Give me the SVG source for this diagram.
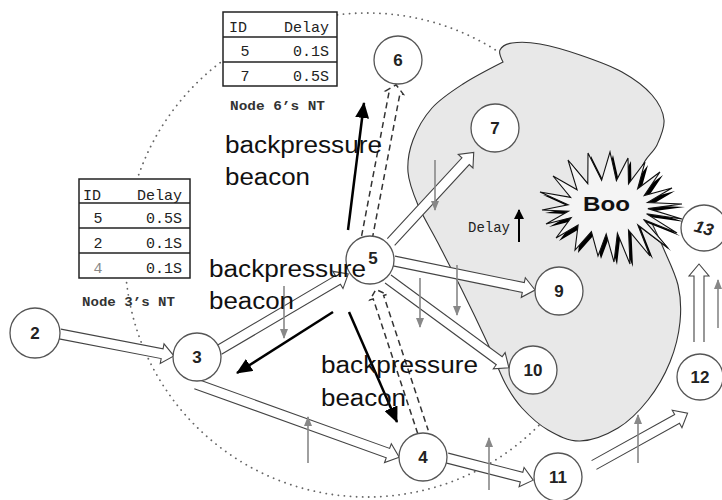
<svg xmlns="http://www.w3.org/2000/svg" width="722" height="500" viewBox="0 0 722 500">
  <style>
    .node circle { fill: #fff; stroke: #555; stroke-width: 1.3; }
    .node text { font-family: "Liberation Sans", Arial, sans-serif; font-weight: bold; font-size: 17px; fill: #222; text-anchor: middle; }
    .flow { fill: #fff; stroke: #444; stroke-width: 1.1; stroke-linejoin: miter; }
    .beacon { fill: none; stroke: #333; stroke-width: 1.5; stroke-dasharray: 6 4; }
    .gray { stroke: #888; stroke-width: 1.6; marker-end: url(#gh); }
    .blk { stroke: #000; stroke-width: 2.5; marker-end: url(#bh); }
    .lbl { font-family: "Liberation Sans", Arial, sans-serif; font-size: 23px; fill: #111; }
    .tbl rect { fill: #fff; stroke: #222; stroke-width: 1.5; }
    .tbl line { stroke: #222; stroke-width: 1.5; }
    .tbl text, .mono { font-family: "Liberation Mono", "DejaVu Sans Mono", monospace; font-size: 15px; fill: #222; }
    .cap { font-family: "Liberation Mono", "DejaVu Sans Mono", monospace; font-size: 12px; font-weight: bold; fill: #333; }
  </style>
  <defs>
    <marker id="bh" viewBox="0 0 16 14" refX="15" refY="7" markerWidth="16" markerHeight="14" markerUnits="userSpaceOnUse" orient="auto">
      <path d="M0,0 L16,7 L0,14 z" fill="#000"/>
    </marker>
    <marker id="bs" viewBox="0 0 10 10" refX="9" refY="5" markerWidth="10" markerHeight="10" markerUnits="userSpaceOnUse" orient="auto">
      <path d="M0,0 L10,5 L0,10 z" fill="#000"/>
    </marker>
    <marker id="gh" viewBox="0 0 10 8" refX="9" refY="4" markerWidth="10" markerHeight="8" markerUnits="userSpaceOnUse" orient="auto">
      <path d="M0,0 L10,4 L0,8 z" fill="#888"/>
    </marker>
  </defs>

  <rect width="722" height="500" fill="#fff"/>

  <!-- neighbourhood boundary -->
  <circle cx="367" cy="255" r="242" fill="none" stroke="#666" stroke-width="1.8" stroke-linecap="round" stroke-dasharray="0.1 6"/>

  <!-- congested region -->
  <path id="region" fill="#e8e8e8" stroke="#333" stroke-width="1.1"
    d="M503,62 C503,62 498.5,53.2 500,50 C501.5,46.8 505.3,44 512,43 C518.7,42 528.7,42 540,44 C551.3,46 566.3,50.3 580,55 C593.7,59.7 610,65.3 622,72 C634,78.7 645,87 652,95 C659,103 663.2,111.7 664,120 C664.8,128.3 660.7,137 657,145 C653.3,153 644,158 642,168 C640,178 641.7,192.2 645,205 C648.3,217.8 656.5,231.7 662,245 C667.5,258.3 675,272.2 678,285 C681,297.8 681.3,309.2 680,322 C678.7,334.8 675.3,349 670,362 C664.7,375 656.7,389 648,400 C639.3,411 629.3,421.2 618,428 C606.7,434.8 591.7,440.7 580,441 C568.3,441.3 557.7,435.5 548,430 C538.3,424.5 529.2,415.8 522,408 C514.8,400.2 510.8,394 505,383 C499.2,372 494.2,357.5 487,342 C479.8,326.5 470.2,306.5 462,290 C453.8,273.5 445.3,257.2 438,243 C430.7,228.8 423,216.8 418,205 C413,193.2 408.8,182.8 408,172 C407.2,161.2 409,150.7 413,140 C417,129.3 423.7,117.3 432,108 C440.3,98.7 451.2,91.7 463,84 C474.8,76.3 503,62 503,62 Z"/>

  <!-- neighbour tables -->
  <g id="table6" class="tbl">
    <rect x="223" y="12" width="114" height="74"/>
    <line x1="223" y1="37" x2="337" y2="37"/>
    <line x1="223" y1="62" x2="337" y2="62"/>
    <text x="229" y="32">ID</text>
    <text x="329" y="32" text-anchor="end">Delay</text>
    <text x="245" y="56" text-anchor="middle">5</text>
    <text x="329" y="56" text-anchor="end">0.1S</text>
    <text x="245" y="81" text-anchor="middle">7</text>
    <text x="329" y="81" text-anchor="end">0.5S</text>
  </g>
  <text class="cap" x="230" y="110" textLength="95" lengthAdjust="spacingAndGlyphs">Node 6’s NT</text>

  <g id="table3" class="tbl">
    <rect x="79" y="179" width="111" height="99"/>
    <line x1="79" y1="203" x2="190" y2="203"/>
    <line x1="79" y1="228" x2="190" y2="228"/>
    <line x1="79" y1="253" x2="190" y2="253"/>
    <text x="83" y="200">ID</text>
    <text x="182" y="200" text-anchor="end">Delay</text>
    <text x="98" y="223" text-anchor="middle">5</text>
    <text x="182" y="223" text-anchor="end">0.5S</text>
    <text x="98" y="248" text-anchor="middle">2</text>
    <text x="182" y="248" text-anchor="end">0.1S</text>
    <text x="98" y="273" text-anchor="middle" style="fill:#888">4</text>
    <text x="182" y="273" text-anchor="end">0.1S</text>
  </g>
  <text class="cap" x="82" y="306" textLength="93" lengthAdjust="spacingAndGlyphs">Node 3’s NT</text>

  <!-- links -->
  <g id="connectors">
    <!-- data flows (hollow block arrows) -->
    <path class="flow" transform="translate(60,334) rotate(10.9)" d="M0,-5 H104 V-10 L116,0 L104,10 V5 H0"/>
    <path class="flow" transform="translate(219,350) rotate(-30.5)" d="M0,-5 H138 V-10 L150,0 L138,10 V5 H0"/>
    <path class="flow" transform="translate(196,384) rotate(19.8)" d="M0,-5 H204 V-10 L216,0 L204,10 V5 H0"/>
    <path class="flow" transform="translate(391,242) rotate(-47.3)" d="M0,-5 H110 V-10 L122,0 L110,10 V5 H0"/>
    <path class="flow" transform="translate(394,261) rotate(11.6)" d="M0,-5 H132 V-10 L144,0 L132,10 V5 H0"/>
    <path class="flow" transform="translate(388,279) rotate(36.3)" d="M0,-5 H138 V-10 L150,0 L138,10 V5 H0"/>
    <path class="flow" transform="translate(447,458) rotate(14.4)" d="M0,-5 H77 V-10 L89,0 L77,10 V5 H0"/>
    <path class="flow" transform="translate(594,465) rotate(-29)" d="M0,-5 H95 V-10 L107,0 L95,10 V5 H0"/>
    <path class="flow" transform="translate(699,342) rotate(-90)" d="M0,-5 H66 V-10 L78,0 L66,10 V5 H0"/>

    <!-- backpressure beacon paths (dashed) -->
    <path class="beacon" transform="translate(367,237) rotate(-79.2)" d="M0,-5.5 H147 V-9 L155,0 L147,9 V5.5 H0"/>
    <path class="beacon" transform="translate(423,432) rotate(-108.3)" d="M0,-5.5 H142 V-9 L150,0 L142,9 V5.5 H0"/>

    <!-- delay indicators -->
    <line class="gray" x1="284" y1="286" x2="284" y2="338"/>
    <line class="gray" x1="308" y1="463" x2="308" y2="417"/>
    <line class="gray" x1="489" y1="490" x2="489" y2="438"/>
    <line class="gray" x1="420" y1="278" x2="420" y2="327"/>
    <line class="gray" x1="457" y1="265" x2="457" y2="315"/>
    <line class="gray" x1="435" y1="160" x2="435" y2="210"/>
    <line class="gray" x1="638" y1="463" x2="638" y2="415"/>
    <line class="gray" x1="718" y1="328" x2="718" y2="280"/>

    <!-- beacon directions -->
    <line class="blk" x1="348" y1="230" x2="364" y2="103"/>
    <line class="blk" x1="333" y1="312" x2="237" y2="373"/>
    <line class="blk" x1="349" y1="312" x2="397" y2="422"/>
  </g>

  <!-- delay legend -->
  <text class="mono" x="468" y="232" font-size="13" textLength="42" lengthAdjust="spacingAndGlyphs">Delay</text>
  <line x1="519" y1="242" x2="519" y2="210" stroke="#000" stroke-width="2" marker-end="url(#bs)"/>

  <!-- hotspot -->
  <g id="boo">
    <polygon transform="translate(3,3)" fill="#000"
      points="540,192 570.6,197.4 553,176 577.1,189.8 568,160 587.8,183.7 588,153 601.6,180.3 610,152 616.4,180.6 628,158 628.5,183.8 645,162 637.6,188.8 660,172 644.2,195.5 672,188 647.5,202.6 682,204 647.9,208.6 682,219 646.6,213.9 677,233 643.5,219.4 668,248 637.8,225 650,256 628.5,230.2 630,264 617.4,233.2 614,262 606.2,234 598,256 591.4,231.6 575,250 578.1,225 556,238 571.2,217.6 546,224 568.5,211.2 542,210 568.2,204.7"/>
    <polygon fill="#f4f4f4" stroke="#111" stroke-width="1.1" stroke-linejoin="miter"
      points="540,192 570.6,197.4 553,176 577.1,189.8 568,160 587.8,183.7 588,153 601.6,180.3 610,152 616.4,180.6 628,158 628.5,183.8 645,162 637.6,188.8 660,172 644.2,195.5 672,188 647.5,202.6 682,204 647.9,208.6 682,219 646.6,213.9 677,233 643.5,219.4 668,248 637.8,225 650,256 628.5,230.2 630,264 617.4,233.2 614,262 606.2,234 598,256 591.4,231.6 575,250 578.1,225 556,238 571.2,217.6 546,224 568.5,211.2 542,210 568.2,204.7"/>
    <text x="583" y="211" font-family="Liberation Sans, Arial, sans-serif" font-weight="bold" font-size="21" fill="#111" textLength="47" lengthAdjust="spacingAndGlyphs">Boo</text>
  </g>

  <!-- nodes -->
  <g id="n2" class="node"><circle cx="35" cy="333" r="25"/><text x="35" y="339">2</text></g>
  <g id="n3" class="node"><circle cx="197" cy="357" r="24"/><text x="197" y="363">3</text></g>
  <g id="n4" class="node"><circle cx="423" cy="457" r="24"/><text x="423" y="463">4</text></g>
  <g id="n5" class="node"><circle cx="370" cy="260" r="24"/><text x="373" y="264">5</text></g>
  <g id="n6" class="node"><circle cx="398" cy="60" r="24"/><text x="398" y="66">6</text></g>
  <g id="n7" class="node"><circle cx="495" cy="128" r="24"/><text x="495" y="134">7</text></g>
  <g id="n9" class="node"><circle cx="559" cy="291" r="24"/><text x="559" y="297">9</text></g>
  <g id="n10" class="node"><circle cx="533" cy="370" r="24"/><text x="533" y="376">10</text></g>
  <g id="n11" class="node"><circle cx="558" cy="477" r="24"/><text x="558" y="483">11</text></g>
  <g id="n12" class="node"><circle cx="700" cy="377" r="23"/><text x="700" y="383">12</text></g>
  <g id="n13" class="node"><circle cx="704" cy="228" r="23"/><text x="704" y="234" font-style="italic" font-weight="normal" transform="rotate(15 704 228)">13</text></g>

  <!-- beacon labels -->
  <g id="labels" class="lbl">
    <text x="225" y="153" textLength="157" lengthAdjust="spacingAndGlyphs">backpressure</text>
    <text x="225" y="185" textLength="85" lengthAdjust="spacingAndGlyphs">beacon</text>
    <text x="209" y="277" textLength="157" lengthAdjust="spacingAndGlyphs">backpressure</text>
    <text x="209" y="309" textLength="85" lengthAdjust="spacingAndGlyphs">beacon</text>
    <text x="321" y="373" textLength="157" lengthAdjust="spacingAndGlyphs">backpressure</text>
    <text x="321" y="406" textLength="85" lengthAdjust="spacingAndGlyphs">beacon</text>
  </g>
</svg>
